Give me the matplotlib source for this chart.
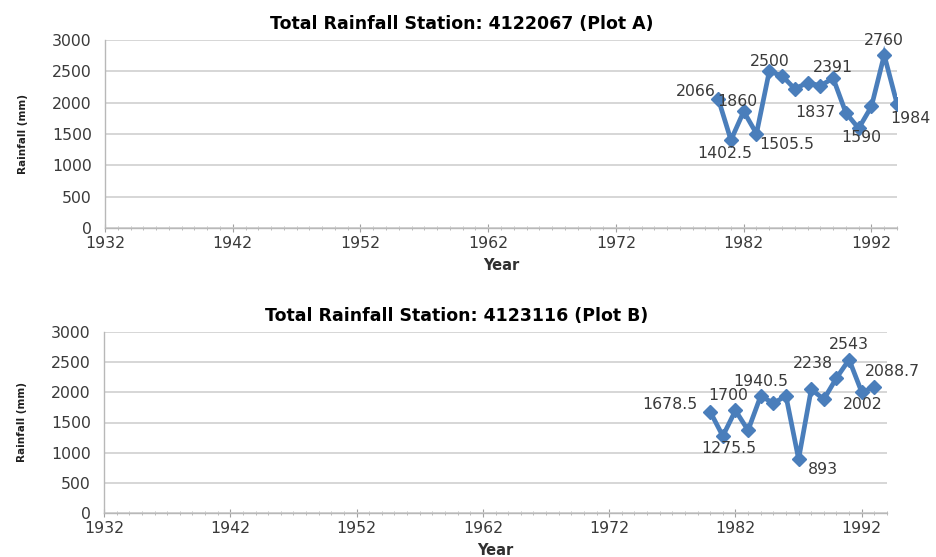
import matplotlib
matplotlib.use("Agg")
import matplotlib.pyplot as plt
from matplotlib.ticker import MultipleLocator

plt.rcParams["font.family"] = ["DejaVu Sans"]

# Station 4122067
years_a = [1980, 1981, 1982, 1983, 1984, 1985, 1986, 1987, 1988, 1989,
           1990, 1991, 1992, 1993, 1994]
rain_a = [2066, 1402.5, 1860, 1505.5, 2500, 2430, 2220, 2320, 2270, 2391,
          1837, 1590, 1940, 2760, 1984]
# labelled points: index -> (text, dx px, dy px, ha)
labels_a = {
    0: ("2066", -2, 7, "right"),
    1: ("1402.5", -6, -13, "center"),
    2: ("1860", -6, 10, "center"),
    3: ("1505.5", 3, -11, "left"),
    4: ("2500", 0, 10, "center"),
    9: ("2391", 0, 11, "center"),
    10: ("1837", -10, 0, "right"),
    11: ("1590", 3, -9, "center"),
    13: ("2760", 0, 15, "center"),
    14: ("1984", 13, -15, "center"),
}

# Station 4123116
years_b = [1980, 1981, 1982, 1983, 1984, 1985, 1986, 1987, 1988, 1989,
           1990, 1991, 1992, 1993]
rain_b = [1678.5, 1275.5, 1700, 1370, 1940.5, 1820, 1940, 893, 2050, 1885,
          2238, 2543, 2002, 2088.7]
labels_b = {
    0: ("1678.5", -13, 7, "right"),
    1: ("1275.5", 6, -12, "center"),
    2: ("1700", -7, 15, "center"),
    4: ("1940.5", 0, 14, "center"),
    7: ("893", 9, -10, "left"),
    10: ("2238", -3, 14, "right"),
    11: ("2543", 0, 15, "center"),
    12: ("2002", 1, -12, "center"),
    13: ("2088.7", 18, 15, "center"),
}

x_ticks = [1932, 1942, 1952, 1962, 1972, 1982, 1992]
y_ticks = [0, 500, 1000, 1500, 2000, 2500, 3000]

LINE = "#4A7EBB"
TEXT = "#3A3A3A"

fig = plt.figure(figsize=(9.36, 5.57), dpi=100)
ax_a = fig.add_axes([105 / 936, 1 - 228 / 557, 792 / 936, 188 / 557])
ax_b = fig.add_axes([104 / 936, 1 - 513 / 557, 783 / 936, 181 / 557])


def draw(ax, years, rain, labels, title):
    ax.plot(years, rain, color=LINE, lw=3.4, marker="D", ms=7,
            mfc=LINE, mec=LINE, solid_joinstyle="miter", zorder=3)
    for i, (txt, dx, dy, ha) in labels.items():
        ax.annotate(txt, (years[i], rain[i]), xytext=(dx * 0.72, dy * 0.72),
                    textcoords="offset points", ha=ha, va="center",
                    fontsize=11.3, color=TEXT, zorder=4)
    ax.set_xlim(1932, 1994)
    ax.set_ylim(0, 3000)
    ax.set_xticks(x_ticks)
    ax.set_yticks(y_ticks)
    ax.xaxis.set_minor_locator(MultipleLocator(1))
    ax.grid(axis="y", color="#D0D0D0", lw=1.2)
    ax.set_axisbelow(True)
    for s in ("top", "right"):
        ax.spines[s].set_visible(False)
    for s in ("left", "bottom"):
        ax.spines[s].set_color("#B8B8B8")
        ax.spines[s].set_linewidth(1.0)
    ax.tick_params(axis="y", length=0, pad=9.5, labelsize=11.3,
                   labelcolor=TEXT)
    ax.tick_params(axis="x", which="major", direction="inout", length=6,
                   color="#A0A0A0", pad=3, labelsize=11.3, labelcolor=TEXT)
    ax.tick_params(axis="x", which="minor", direction="inout", length=3,
                   color="#B0B0B0")
    ax.set_title(title, fontsize=12.5, fontweight="bold", pad=8, x=0.45)
    ax.set_xlabel("Year", fontsize=10.5, fontweight="bold", color="#303030",
                  labelpad=5)
    ax.set_ylabel("Rainfall (mm)", fontsize=7.5,
                  family=["Liberation Sans Narrow", "DejaVu Sans"],
                  fontweight="bold", color="#202020", labelpad=17)


draw(ax_a, years_a, rain_a, labels_a, "Total Rainfall Station: 4122067 (Plot A)")
draw(ax_b, years_b, rain_b, labels_b, "Total Rainfall Station: 4123116 (Plot B)")

fig.savefig("out.png", dpi=100)
